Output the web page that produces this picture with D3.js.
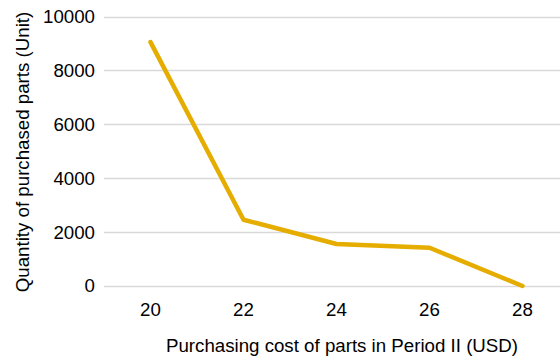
<!DOCTYPE html>
<html>
<head>
<meta charset="utf-8">
<script src="https://cdn.jsdelivr.net/npm/d3@7"></script>
<style>
  html, body { margin: 0; padding: 0; background: #fff; }
  svg { display: block; font-family: "Liberation Sans", Arial, sans-serif; }
</style>
</head>
<body>
<svg id="chart" width="560" height="358"></svg>
<script>
// Purchasing cost (USD) vs. quantity of parts purchased
const costs = ["20", "22", "24", "26", "28"];
const quantities = [9050, 2460, 1560, 1420, 0];
const yTicks = [0, 2000, 4000, 6000, 8000, 10000];

(function draw() {
  const svg = d3.select("#chart");
  const plotLeft = 104, plotRight = 569, plotTop = 16.5, plotBottom = 286;
  const fontSize = 18.7;

  const x = d3.scaleBand().domain(costs).range([plotLeft, plotRight]);
  const y = d3.scaleLinear().domain([0, 10000]).range([plotBottom, plotTop]);

  // horizontal gridlines
  svg.append("g")
    .selectAll("line")
    .data(yTicks)
    .join("line")
    .attr("x1", plotLeft)
    .attr("x2", 560)
    .attr("y1", d => Math.round(y(d)) + 0.5)
    .attr("y2", d => Math.round(y(d)) + 0.5)
    .attr("stroke", "#d9d9d9")
    .attr("stroke-width", 1.3);

  // y axis labels
  const yAxis = svg.append("g")
    .attr("transform", `translate(${plotLeft},0)`)
    .call(d3.axisLeft(y).tickValues(yTicks).tickSize(0).tickPadding(9).tickFormat(d3.format("d")));
  yAxis.select(".domain").remove();
  yAxis.selectAll("text")
    .attr("font-size", fontSize)
    .attr("fill", "#000")
    .attr("font-family", "Liberation Sans, Arial, sans-serif");

  // x axis labels
  const xAxis = svg.append("g")
    .attr("transform", `translate(0,${plotBottom})`)
    .call(d3.axisBottom(x).tickSize(0).tickPadding(17));
  xAxis.select(".domain").remove();
  xAxis.selectAll("text")
    .attr("font-size", fontSize)
    .attr("fill", "#000")
    .attr("font-family", "Liberation Sans, Arial, sans-serif");

  // axis titles
  svg.append("text")
    .attr("transform", "translate(29,152) rotate(-90)")
    .attr("text-anchor", "middle")
    .attr("font-size", fontSize)
    .attr("fill", "#000")
    .text("Quantity of purchased parts (Unit)");

  svg.append("text")
    .attr("x", 342)
    .attr("y", 352)
    .attr("text-anchor", "middle")
    .attr("font-size", fontSize)
    .attr("fill", "#000")
    .text("Purchasing cost of parts in Period II (USD)");

  // data line
  const line = d3.line()
    .x((d, i) => x(costs[i]) + x.bandwidth() / 2)
    .y(d => y(d));

  svg.append("path")
    .datum(quantities)
    .attr("d", line)
    .attr("fill", "none")
    .attr("stroke", "#E5AD00")
    .attr("stroke-width", 4.5)
    .attr("stroke-linejoin", "round")
    .attr("stroke-linecap", "round");
})();
</script>
</body>
</html>
